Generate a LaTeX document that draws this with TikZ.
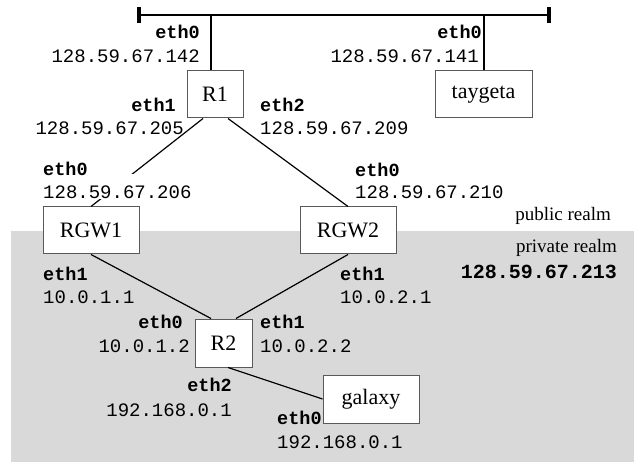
\documentclass[tikz,border=0pt]{standalone}
\usepackage{fontspec}
\setmainfont{Liberation Serif}
\setmonofont{Liberation Mono}
\definecolor{realmgray}{HTML}{D9D9D9}
\begin{document}
\begin{tikzpicture}[x=1pt,y=-1pt,
  hostbox/.style={draw=black!65, line width=1pt, fill=white, inner sep=0pt,
    font=\fontsize{22}{24}\selectfont},
  link/.style={line width=1.2pt},
  iface/.style={inner sep=0pt, font=\fontsize{18.5}{20}\selectfont\ttfamily\bfseries},
  addr/.style={inner sep=0pt, font=\fontsize{19}{20}\selectfont\ttfamily},
  realm/.style={inner sep=0pt, font=\fontsize{19}{20}\selectfont}]
\useasboundingbox (0,0) rectangle (634,462);
\fill[realmgray] (11,231) rectangle (634,462);

% bus
\coordinate (busL) at (139,15);
\coordinate (busR) at (549,15);
\coordinate (tapR1) at (211,15);
\coordinate (tapT) at (484,15);
\draw[line width=2pt] (busL) -- (busR);
\draw[line width=3.5pt] ([yshift=-8]busL) -- ([yshift=8]busL);
\draw[line width=3.5pt] ([yshift=-8]busR) -- ([yshift=8]busR);

% hosts
\node[hostbox, minimum width=56pt, minimum height=47pt] (R1) at (215,94.5) {R1};
\node[hostbox, minimum width=97pt, minimum height=47pt] (tay) at (483.5,94.5) {taygeta};
\node[hostbox, minimum width=96pt, minimum height=47pt] (RGW1) at (91,230.5) {RGW1};
\node[hostbox, minimum width=96pt, minimum height=47pt] (RGW2) at (348,230.5) {RGW2};
\node[hostbox, minimum width=57pt, minimum height=48pt] (R2) at (223.5,343) {R2};
\node[hostbox, minimum width=96pt, minimum height=48pt] (gal) at (371,399) {galaxy};

% links
\draw[link] (tapR1) -- (tapR1 |- R1.north);
\draw[link] (tapT) -- (tapT |- tay.north);
\draw[link] ([xshift=-12pt]R1.south) -- (RGW1.north);
\draw[link] ([xshift=13pt]R1.south) -- (RGW2.north);
\draw[link] (RGW1.south) -- ([xshift=-12.5pt]R2.north);
\draw[link] (RGW2.south) -- ([xshift=12.5pt]R2.north);
\draw[link] ([xshift=4.5pt]R2.south) -- (gal.west);

% labels
\node[iface, anchor=base east] (l1) at (200,39) {eth0};
\node[addr, anchor=base east] (l2) at (200,63) {128.59.67.142};
\node[iface, anchor=base east] (l3) at (482,39) {eth0};
\node[addr, anchor=base east] (l4) at (479,63) {128.59.67.141};
\node[iface, anchor=base east] (l5) at (176,112) {eth1};
\node[addr, anchor=base east] (l6) at (184,135) {128.59.67.205};
\node[iface, anchor=base west] (l7) at (260,112) {eth2};
\node[addr, anchor=base west] (l8) at (260,135) {128.59.67.209};
\node[addr, anchor=base west, fill=white, text height=25pt, text depth=0pt] (l10) at (43,199) {128.59.67.206};
\node[iface, anchor=base west] (l9) at (43,176) {eth0};
\node[iface, anchor=base west] (l11) at (355,177) {eth0};
\node[addr, anchor=base west] (l12) at (355,199) {128.59.67.210};
\node[iface, anchor=base west] (l13) at (43,280) {eth1};
\node[addr, anchor=base west] (l14) at (43,303) {10.0.1.1};
\node[iface, anchor=base west] (l15) at (340,280) {eth1};
\node[addr, anchor=base west] (l16) at (340,303) {10.0.2.1};
\node[iface, anchor=base east] (l17) at (183,328) {eth0};
\node[addr, anchor=base east] (l18) at (190,352) {10.0.1.2};
\node[iface, anchor=base west] (l19) at (260,328) {eth1};
\node[addr, anchor=base west] (l20) at (260,352) {10.0.2.2};
\node[iface, anchor=base east] (l21) at (232,391) {eth2};
\node[addr, anchor=base east] (l22) at (232,416) {192.168.0.1};
\node[iface, anchor=base west] (l23) at (277,424) {eth0};
\node[addr, anchor=base west] (l24) at (277,448) {192.168.0.1};

\node[realm, anchor=base east] (pub) at (611,221) {public realm};
\node[realm, anchor=base east] (priv) at (617,253) {private realm};
\node[iface, anchor=base east, font=\fontsize{20}{22}\selectfont\ttfamily\bfseries] (pip) at (617,279) {128.59.67.213};
\end{tikzpicture}
\end{document}
